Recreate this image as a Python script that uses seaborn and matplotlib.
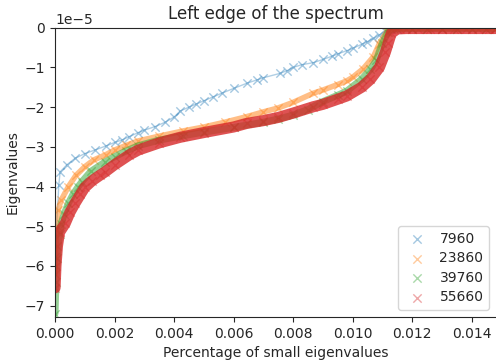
import numpy as np
import pandas as pd
import matplotlib
matplotlib.use("Agg")
import matplotlib.pyplot as plt
import seaborn as sns

# sizes of the matrices (legend labels)
sizes = [7960, 23860, 39760, 55660]

# eigenvalues, in units of 1e-5
x_7960 = [0, 0.000126, 0.00017, 0.0004, 0.00067, 0.001, 0.00134, 0.0017,
          0.002, 0.00224, 0.0025, 0.0028, 0.003, 0.00336, 0.0037, 0.0040,
          0.0042, 0.0045, 0.00475, 0.005, 0.00532, 0.0056, 0.006, 0.00644,
          0.0068, 0.007, 0.00756, 0.0078, 0.008, 0.0083, 0.00868, 0.009,
          0.0093, 0.0095, 0.0098, 0.01, 0.0103, 0.0105, 0.0107, 0.0109,
          0.0111, 0.0113, 0.0115, 0.012, 0.0125, 0.013, 0.0135, 0.014, 0.0145, 0.0148]
y_7960 = [-5.77, -3.96, -3.63, -3.45, -3.29, -3.17, -3.08, -2.98,
          -2.89, -2.83, -2.74, -2.64, -2.58, -2.49, -2.38, -2.25,
          -2.10, -2.00, -1.92, -1.84, -1.74, -1.65, -1.53, -1.40,
          -1.31, -1.26, -1.15, -1.08, -1.00, -0.93, -0.88, -0.80,
          -0.72, -0.66, -0.58, -0.52, -0.42, -0.35, -0.27, -0.18,
          -0.08, -0.03, -0.02, -0.02, -0.02, -0.02, -0.02, -0.02, -0.02, -0.02]

x_23860 = [0, 0.00005, 0.0001, 0.0002, 0.00045, 0.0007, 0.001, 0.0013,
           0.0017, 0.002, 0.0024, 0.0028, 0.0035, 0.0043, 0.005, 0.0057,
           0.00644, 0.007, 0.0075, 0.008, 0.00868, 0.009, 0.0095, 0.0098,
           0.01, 0.01036, 0.0107, 0.0109, 0.01115, 0.0113, 0.0116, 0.012,
           0.0125, 0.013, 0.0135, 0.014, 0.0145, 0.0148]
y_23860 = [-6.2, -5.0, -4.6, -4.35, -4.0, -3.72, -3.5, -3.33,
           -3.2, -3.08, -2.96, -2.85, -2.73, -2.60, -2.50, -2.38,
           -2.24, -2.12, -2.02, -1.88, -1.65, -1.57, -1.43, -1.34,
           -1.25, -1.03, -0.73, -0.40, -0.10, -0.03, -0.02, -0.02,
           -0.02, -0.02, -0.02, -0.02, -0.02, -0.02]

x_39760 = [0, 0.00003, 0.00008, 0.00015, 0.0002, 0.0003, 0.00045, 0.0006,
           0.00078, 0.0009, 0.0012, 0.00168, 0.002, 0.0024, 0.0028, 0.0035,
           0.0043, 0.005, 0.006, 0.007, 0.0075, 0.008, 0.0085, 0.009,
           0.0095, 0.0098, 0.0103, 0.0106, 0.0108, 0.011, 0.0112, 0.0114,
           0.012, 0.0125, 0.013, 0.0135, 0.014, 0.0145, 0.0148]
y_39760 = [-7.2, -6.4, -5.8, -5.2, -4.95, -4.7, -4.42, -4.2,
           -4.0, -3.88, -3.62, -3.38, -3.25, -3.1, -2.97, -2.83,
           -2.72, -2.63, -2.51, -2.38, -2.30, -2.20, -2.06, -1.86,
           -1.70, -1.60, -1.30, -1.05, -0.81, -0.39, -0.10, -0.03,
           -0.02, -0.02, -0.02, -0.02, -0.02, -0.02, -0.02]

x_55660 = [0, 0.00003, 0.00008, 0.00015, 0.00034, 0.0005, 0.00067, 0.00085,
           0.001, 0.00125, 0.0015, 0.00168, 0.002, 0.0025, 0.0028, 0.0035,
           0.0042, 0.005, 0.006, 0.00644, 0.007, 0.0075, 0.008, 0.00868,
           0.009, 0.0095, 0.0098, 0.0103, 0.0106, 0.0109, 0.0111, 0.0112,
           0.0113, 0.0115, 0.0118, 0.0122, 0.0126, 0.013, 0.0134, 0.0138,
           0.0142, 0.0146, 0.0148]
y_55660 = [-6.55, -6.0, -5.5, -5.15, -4.93, -4.65, -4.42, -4.2,
           -4.02, -3.85, -3.72, -3.63, -3.45, -3.2, -3.08, -2.9,
           -2.76, -2.64, -2.50, -2.41, -2.34, -2.26, -2.15, -1.99,
           -1.93, -1.80, -1.72, -1.50, -1.30, -1.00, -0.62, -0.38,
           -0.14, -0.03, -0.02, -0.02, -0.02, -0.02, -0.02, -0.02,
           -0.02, -0.02, -0.02]

xs = [x_7960, x_23860, x_39760, x_55660]
ys = [y_7960, y_23860, y_39760, y_55660]

frames = []
for n, xv, yv in zip(sizes, xs, ys):
    frames.append(pd.DataFrame({"pct": xv, "eig": np.array(yv) * 1e-5, "N": str(n)}))
df = pd.concat(frames, ignore_index=True)

sns.set_style("ticks")
plt.rcParams["font.family"] = ["DejaVu Sans"]

colors = sns.color_palette("tab10", 4)
palette = dict(zip([str(n) for n in sizes], colors))

fig = plt.figure(figsize=(4.96, 3.6), dpi=100)
ax = fig.add_axes([0.111, 0.12, 0.889, 0.803])

# dense series look like a solid band of markers -> thick translucent line underneath
widths = {"7960": 1.0, "23860": 4, "39760": 5, "55660": 8}
alphas = {"7960": 0.35, "23860": 0.5, "39760": 0.5, "55660": 0.8}
for n in [str(s) for s in sizes]:
    sub = df[df["N"] == n]
    sns.lineplot(data=sub, x="pct", y="eig", color=palette[n], lw=widths[n],
                 alpha=alphas[n], legend=False, ax=ax, sort=False, estimator=None)
    sns.scatterplot(data=sub, x="pct", y="eig", color=palette[n], marker="x",
                    s=36, linewidth=1, alpha=0.4, label=n, ax=ax)

ax.set_xlim(0, 0.01482)
ax.set_ylim(-7.28e-5, 0)
ax.set_yticks(np.arange(-7, 1) * 1e-5)
ax.set_xticks([0, 0.002, 0.004, 0.006, 0.008, 0.010, 0.012, 0.014])
ax.xaxis.set_major_formatter(matplotlib.ticker.FormatStrFormatter("%.3f"))
ax.spines["right"].set_visible(False)
ax.set_title("Left edge of the spectrum", fontsize=12)
ax.set_xlabel("Percentage of small eigenvalues")
ax.set_ylabel("Eigenvalues")
ax.legend(loc="lower right", fontsize=10, handletextpad=0.6, labelspacing=0.4)

fig.savefig("out.png", dpi=100)
